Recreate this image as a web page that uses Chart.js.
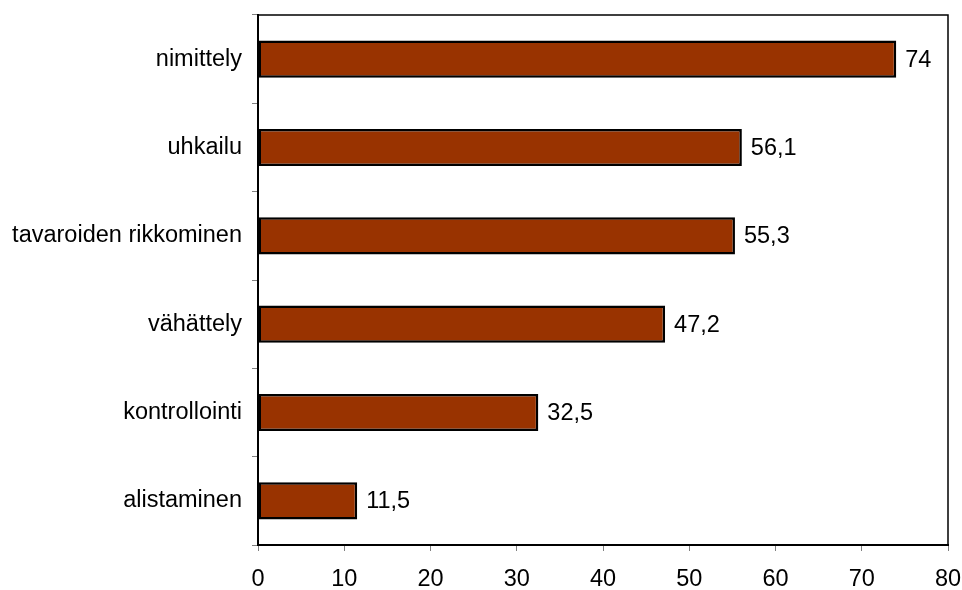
<!DOCTYPE html>
<html lang="fi">

<head>
    <meta charset="UTF-8">
    <title>Väkivallan muodot</title>
    <style>
        html, body { margin: 0; padding: 0; background: #fff; overflow: hidden; }
        #box { position: relative; width: 962px; height: 590px; }
    </style>
</head>

<body>
    <div id="box">
        <canvas id="myChart"></canvas>
    </div>
    <script src="https://cdn.jsdelivr.net/npm/chart.js"></script>
    <script>
        // data
        var categories = ['nimittely', 'uhkailu', 'tavaroiden rikkominen', 'vähättely', 'kontrollointi', 'alistaminen'];
        var values = [74, 56.1, 55.3, 47.2, 32.5, 11.5];
        var xTicks = [0, 10, 20, 30, 40, 50, 60, 70, 80];

        var fontMain = { family: '"Liberation Sans", Arial, sans-serif', size: 23.5 };

        // value labels next to bars, comma as decimal sign
        var valueLabels = {
            id: 'valueLabels',
            afterDatasetsDraw: function (chart) {
                var ctx = chart.ctx;
                var meta = chart.getDatasetMeta(0);
                ctx.save();
                ctx.font = fontMain.size + 'px ' + fontMain.family;
                ctx.fillStyle = '#000';
                ctx.textAlign = 'left';
                ctx.textBaseline = 'middle';
                meta.data.forEach(function (bar, i) {
                    var txt = String(values[i]).replace('.', ',');
                    ctx.fillText(txt, bar.x + 9, bar.y + 1);
                });
                ctx.restore();
            }
        };

        // top and right frame of the plot area
        var plotFrame = {
            id: 'plotFrame',
            afterDraw: function (chart) {
                var a = chart.chartArea;
                var ctx = chart.ctx;
                ctx.save();
                ctx.strokeStyle = '#000';
                ctx.lineWidth = 1.5;
                ctx.beginPath();
                ctx.moveTo(a.left, a.top);
                ctx.lineTo(a.right, a.top);
                ctx.lineTo(a.right, a.bottom);
                ctx.stroke();
                ctx.restore();
            }
        };

        const ctx01 = document.getElementById('myChart');
        var mychart = new Chart(ctx01, {
            type: 'bar',
            data: {
                labels: categories,
                datasets: [{
                    data: values,
                    backgroundColor: '#993300',
                    borderColor: '#000',
                    borderWidth: 2.5,
                    borderSkipped: false,
                    categoryPercentage: 1,
                    barPercentage: 0.42
                }]
            },
            options: {
                indexAxis: 'y',
                responsive: true,
                maintainAspectRatio: false,
                animation: false,
                layout: { padding: { top: 15, right: 14, left: 0, bottom: 0 } },
                plugins: {
                    legend: { display: false },
                    tooltip: { enabled: false }
                },
                scales: {
                    x: {
                        min: 0,
                        max: 80,
                        afterBuildTicks: function (scale) {
                            scale.ticks = xTicks.map(function (v) { return { value: v }; });
                        },
                        afterFit: function (scale) {
                            scale.height = 45;
                            scale.paddingLeft = 0;
                            scale.paddingRight = 0;
                        },
                        grid: {
                            drawOnChartArea: false,
                            drawTicks: true,
                            tickLength: 6,
                            color: '#808080'
                        },
                        border: { color: '#000', width: 2 },
                        ticks: { color: '#000', font: fontMain, padding: 14, maxRotation: 0 }
                    },
                    y: {
                        afterFit: function (scale) {
                            scale.width = 258;
                            scale.paddingTop = 0;
                            scale.paddingBottom = 0;
                        },
                        grid: {
                            offset: true,
                            drawOnChartArea: false,
                            drawTicks: true,
                            tickLength: 6,
                            color: '#808080'
                        },
                        border: { color: '#000', width: 2 },
                        ticks: { color: '#000', font: fontMain, padding: 10 }
                    }
                }
            },
            plugins: [valueLabels, plotFrame]
        });
    </script>
</body>

</html>
